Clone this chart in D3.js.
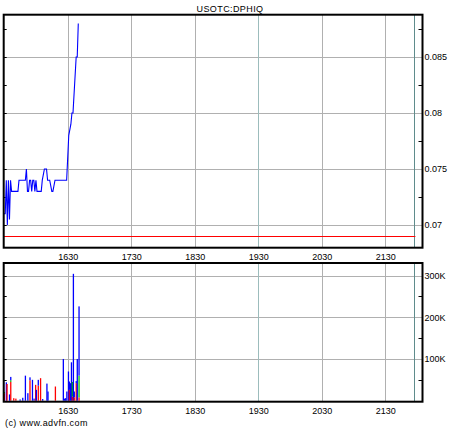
<!DOCTYPE html>
<html>
<head>
<meta charset="utf-8">
<script src="https://cdn.jsdelivr.net/npm/d3@7"></script>
<style>
html,body{margin:0;padding:0;background:#fff;}
svg{display:block;}
text{font-family:"Liberation Sans",Arial,sans-serif;font-size:9px;fill:#000;}
</style>
</head>
<body>
<script>
// ---------------- data ----------------
const title = "USOTC:DPHIQ";
const credit = "(c) www.advfn.com";
const xTickLabels = ["1630","1730","1830","1930","2030","2130"];
const markerTime = "21:57";
const refPrice = 0.069;

const priceTimes = ["15:29","15:31","15:32","15:33","15:34","15:35","15:36","15:37","15:43","15:44",
  "15:50","15:51","15:52","15:53","15:54","15:55","15:56","15:57","15:58","15:59",
  "16:00","16:01","16:05","16:06","16:08","16:10","16:11","16:13","16:15","16:16",
  "16:18","16:29","16:31","16:33","16:34","16:35","16:38","16:39","16:40"];
const priceValues = [0.071,0.071,0.074,0.070,0.074,0.0705,0.074,0.073,0.073,0.074,
  0.074,0.075,0.073,0.073,0.074,0.074,0.073,0.074,0.074,0.073,
  0.074,0.073,0.073,0.074,0.075,0.075,0.074,0.074,0.073,0.073,
  0.074,0.074,0.078,0.079,0.080,0.080,0.085,0.085,0.088];
const priceTicks = [0.07,0.075,0.08,0.085];
const priceTickLabels = ["0.07","0.075","0.08","0.085"];
const priceMinorTicks = [0.0725,0.0775,0.0825,0.0875];

const volTimes = ["15:29:24","15:30:10","15:32:00","15:32:40","15:35:00","15:36:10","15:39:00","15:41:00","15:45:00","15:47:30",
  "15:50:00","15:52:20","15:54:20","15:56:40","15:58:10","15:59:40","16:00:20","16:02:10","16:04:20","16:06:20",
  "16:10:20","16:11:20","16:18:20","16:25:50","16:27:00","16:28:00","16:29:10","16:30:40","16:31:30","16:32:30",
  "16:33:30","16:34:20","16:35:20","16:36:10","16:38:00","16:39:00","16:40:40"];
const volRed   = [0,18,0,40,0,45,6,5,0,0, 0,0,49,0,0,38,0,36,54,0, 0,0,34,0,0,0,0,0,26,0, 0,10,0,8,42,0,8];
const volGreen = [0,3,0,0,0,4,0,0,0,0, 0,0,0,0,0,0,0,0,0,0, 0,0,0,0,0,0,0,0,0,0, 0,35,0,0,0,0,52];
const volBlue  = [49,0,44,0,15,8,0,0,3,7, 60,18,7,50,5,0,26,14,0,4, 41,22,0,100,5,6,22,70,20,42, 92,0,304,14,5,100,166];
const volTicks = [100000,200000,300000];
const volTickLabels = ["100K","200K","300K"];
const volMinorTicks = [50000,150000,250000];

// ---------------- setup ----------------
const W = 460, H = 430;
const P = {left:3.7, right:422.5, top:14.7, bottom:247.7};
const V = {left:3.7, right:422.5, top:263, bottom:401.7};
const day = "2000-01-01 ";
const pt = s => (s.length === 5 ? d3.timeParse("%Y-%m-%d %H:%M")(day+s) : d3.timeParse("%Y-%m-%d %H:%M:%S")(day+s));

const x = d3.scaleTime().domain([pt("16:30"), pt("21:30")]).range([67.7, 385.3]);
const yP = d3.scaleLinear().domain([0.07, 0.085]).range([225, 57]);
const yV = d3.scaleLinear().domain([0, 300000]).range([400.7, 275.5]);
const xTicks = xTickLabels.map(l => pt(l.slice(0,2)+":"+l.slice(2)));

const svg = d3.select("body").append("svg").attr("width", W).attr("height", H);
svg.append("rect").attr("width", W).attr("height", H).attr("fill", "#fff");

const gridCol = "#b0b0b0";
function panel(B, yScale, ticks, minor, labels, id){
  const g = svg.append("g");
  g.append("clipPath").attr("id", id).append("rect")
    .attr("x", B.left).attr("y", B.top).attr("width", B.right-B.left).attr("height", B.bottom-B.top);
  // horizontal grid
  g.selectAll(".hg").data(ticks).join("line")
    .attr("x1", B.left).attr("x2", B.right)
    .attr("y1", d => Math.round(yScale(d))+0.5).attr("y2", d => Math.round(yScale(d))+0.5)
    .attr("stroke", gridCol).attr("stroke-width", 1);
  // vertical grid
  g.selectAll(".vg").data(xTicks).join("line")
    .attr("x1", d => Math.round(x(d))+0.5).attr("x2", d => Math.round(x(d))+0.5)
    .attr("y1", B.top).attr("y2", B.bottom)
    .attr("stroke", (d,i) => i === 3 ? "#9cbcbc" : gridCol).attr("stroke-width", 1);
  // marker line
  g.append("line")
    .attr("x1", Math.round(x(pt(markerTime)))+0.5).attr("x2", Math.round(x(pt(markerTime)))+0.5)
    .attr("y1", B.top).attr("y2", B.bottom)
    .attr("stroke", "#5f8c8c").attr("stroke-width", 1);
  // left & right minor ticks
  const allT = ticks.concat(minor);
  g.selectAll(".lt").data(allT).join("line")
    .attr("x1", B.left).attr("x2", B.left+3)
    .attr("y1", d => Math.round(yScale(d))+0.5).attr("y2", d => Math.round(yScale(d))+0.5)
    .attr("stroke", "#000");
  g.selectAll(".rt").data(minor).join("line")
    .attr("x1", B.right-4).attr("x2", B.right)
    .attr("y1", d => Math.round(yScale(d))+0.5).attr("y2", d => Math.round(yScale(d))+0.5)
    .attr("stroke", "#000");
  // y labels
  const ax = d3.axisRight(yScale).tickValues(ticks).tickSize(0).tickPadding(2)
    .tickFormat((d,i) => labels[i]);
  const ag = svg.append("g").attr("transform", `translate(${B.right},0)`).call(ax);
  ag.select(".domain").remove();
  ag.selectAll("text").attr("font-family", '"Liberation Sans",Arial,sans-serif').attr("font-size", 9).attr("fill","#000");
  // x labels
  const bx = d3.axisBottom(x).tickValues(xTicks).tickSize(0).tickPadding(6)
    .tickFormat((d,i) => xTickLabels[i]);
  const bg = svg.append("g").attr("transform", `translate(0,${B.bottom})`).call(bx);
  bg.select(".domain").remove();
  bg.selectAll("text").attr("font-family", '"Liberation Sans",Arial,sans-serif').attr("font-size", 9).attr("fill","#000");
  return g;
}

// ---------------- price panel ----------------
const gp = panel(P, yP, priceTicks, priceMinorTicks, priceTickLabels, "clipP");
gp.append("line")
  .attr("x1", P.left).attr("x2", x(pt(markerTime))+1.5)
  .attr("y1", Math.round(yP(refPrice))+0.5).attr("y2", Math.round(yP(refPrice))+0.5)
  .attr("stroke", "#ff0000").attr("stroke-width", 1);
const priceData = priceTimes.map((t,i) => ({t: pt(t), v: priceValues[i]}));
gp.append("path").datum(priceData)
  .attr("clip-path", "url(#clipP)")
  .attr("fill", "none").attr("stroke", "#0000ff").attr("stroke-width", 1.1)
  .attr("d", d3.line().x(d => x(d.t)).y(d => yP(d.v)));
gp.append("rect").attr("x", P.left).attr("y", P.top).attr("width", P.right-P.left).attr("height", P.bottom-P.top)
  .attr("fill", "none").attr("stroke", "#000").attr("stroke-width", 2);

// ---------------- volume panel ----------------
const gv = panel(V, yV, volTicks, volMinorTicks, volTickLabels, "clipV");
const volData = volTimes.map((t,i) => ({t: pt(t), r: volRed[i]*1000, g: volGreen[i]*1000, b: volBlue[i]*1000}));
const segs = [];
volData.forEach(d => {
  let base = 0;
  [["r","#ff0000"],["g","#00c000"],["b","#0000ff"]].forEach(([k,c]) => {
    if (d[k] > 0) { segs.push({t:d.t, y0:base, y1:base+d[k], c}); base += d[k]; }
  });
});
gv.append("g").attr("clip-path", "url(#clipV)").selectAll("rect").data(segs).join("rect")
  .attr("x", d => x(d.t) - 0.6).attr("width", 1.3)
  .attr("y", d => yV(d.y1)).attr("height", d => yV(d.y0) - yV(d.y1))
  .attr("fill", d => d.c);
gv.append("rect").attr("x", V.left).attr("y", V.top).attr("width", V.right-V.left).attr("height", V.bottom-V.top)
  .attr("fill", "none").attr("stroke", "#000").attr("stroke-width", 2);

// ---------------- texts ----------------
svg.append("text").attr("x", 230).attr("y", 11.5).attr("text-anchor", "middle")
  .attr("letter-spacing", 0.4).text(title);
svg.append("text").attr("x", 5).attr("y", 425.5).attr("letter-spacing", 0.4).text(credit);
</script>
</body>
</html>
